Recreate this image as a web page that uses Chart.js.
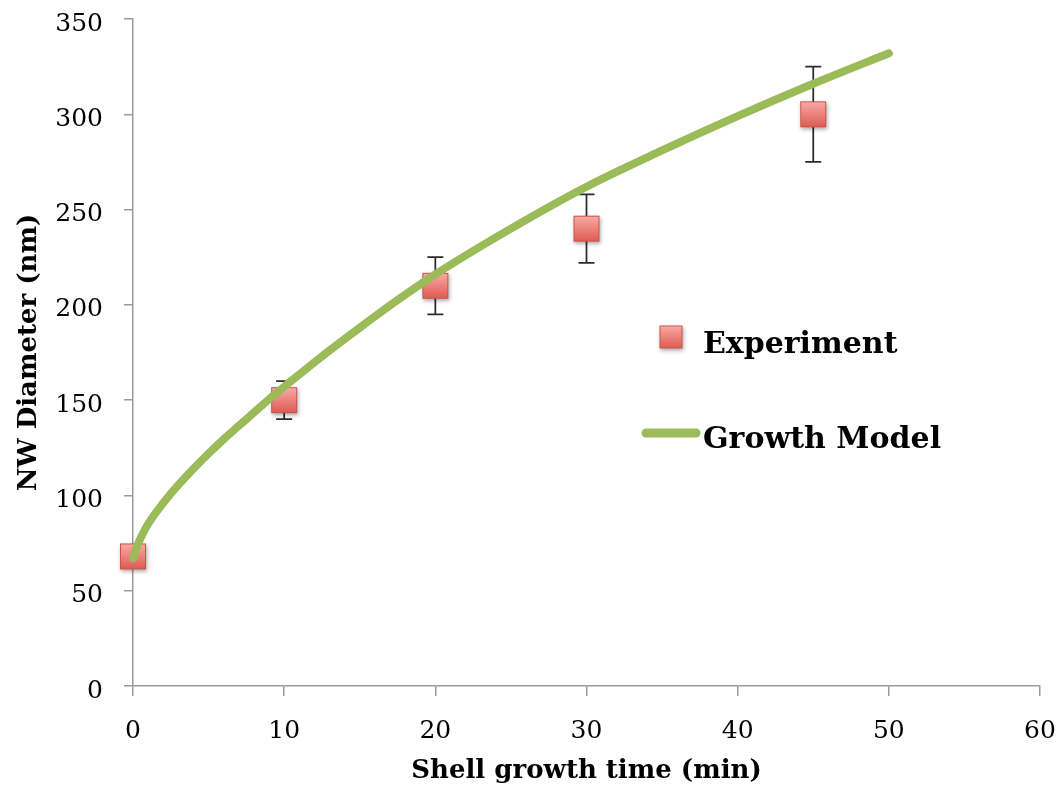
<!DOCTYPE html>
<html>
<head>
<meta charset="utf-8">
<script src="https://cdn.jsdelivr.net/npm/chart.js@4"></script>
<style>
  html, body { margin: 0; padding: 0; background: #fff; }
  #wrap { width: 1060px; height: 789px; }
</style>
</head>
<body>
<div id="wrap"><canvas id="c" width="1060" height="789"></canvas></div>
<script>
// Measured nanowire diameters after shell growth (mean and +/- error)
const expTime = [0, 10, 20, 30, 45];
const expDiameter = [68, 150, 210, 240, 300];
const expError = [0, 10, 15, 18, 25];

// Growth model curve samples
const modelTime = [0, 0.25, 0.5, 1, 2, 3, 4, 5, 6, 7, 8, 9, 10, 12.5, 15, 17.5, 20, 25, 30, 35, 40, 45, 50];
const modelDiameter = [67, 73, 77.5, 85, 96, 105.5, 114, 122, 129.5, 136.5, 143.5, 150.5, 157, 173, 188, 202.5, 216, 240, 262, 281, 299, 316, 332];

// Axis ticks
const timeTicks = [0, 10, 20, 30, 40, 50, 60];
const diameterTicks = [0, 50, 100, 150, 200, 250, 300, 350];

const seriesNames = ['Experiment', 'Growth Model'];
const axisTitles = ['Shell growth time (min)', 'NW Diameter (nm)'];

const FONT = "'DejaVu Serif', 'Liberation Serif', serif";
const GREEN = '#9bbb59';
const AXIS_GREY = '#9a9a9a';

// Square marker with a soft gradient and drop shadow
function makeMarker(size, pad) {
  const c = document.createElement('canvas');
  const s = size + pad * 2;
  c.width = s; c.height = s;
  const g = c.getContext('2d');
  g.shadowColor = 'rgba(0,0,0,0.35)';
  g.shadowBlur = 4;
  g.shadowOffsetX = 1;
  g.shadowOffsetY = 2;
  const grad = g.createLinearGradient(0, pad, 0, pad + size);
  grad.addColorStop(0, '#f8aca6');
  grad.addColorStop(1, '#de5a52');
  g.fillStyle = grad;
  g.fillRect(pad, pad, size, size);
  g.shadowColor = 'transparent';
  g.strokeStyle = '#c8524c';
  g.lineWidth = 1;
  g.strokeRect(pad + 0.5, pad + 0.5, size - 1, size - 1);
  return c;
}
const pointMarker = makeMarker(26, 6);
const legendMarker = makeMarker(23, 5);

// Vertical error bars with caps, drawn beneath the markers
const errorBars = {
  id: 'errorBars',
  beforeDatasetsDraw(chart) {
    const { ctx, scales: { x, y } } = chart;
    ctx.save();
    ctx.strokeStyle = '#2b2b2b';
    ctx.lineWidth = 1.75;
    expTime.forEach((t, i) => {
      const e = expError[i];
      if (!e) return;
      const px = x.getPixelForValue(t);
      const top = y.getPixelForValue(expDiameter[i] + e);
      const bot = y.getPixelForValue(expDiameter[i] - e);
      ctx.beginPath();
      ctx.moveTo(px, top); ctx.lineTo(px, bot);
      ctx.moveTo(px - 8, top); ctx.lineTo(px + 8, top);
      ctx.moveTo(px - 8, bot); ctx.lineTo(px + 8, bot);
      ctx.stroke();
    });
    ctx.restore();
  }
};

// Legend placed inside the plot, right of the curve
const innerLegend = {
  id: 'innerLegend',
  afterDraw(chart) {
    const { ctx } = chart;
    const byName = name => chart.data.datasets.find(d => d.label === name).label;
    ctx.save();
    ctx.font = 'bold 30px ' + FONT;
    ctx.fillStyle = '#000';
    ctx.textAlign = 'left';
    ctx.textBaseline = 'alphabetic';
    ctx.drawImage(legendMarker, 671 - legendMarker.width / 2, 337 - legendMarker.height / 2);
    ctx.fillText(byName(seriesNames[0]), 703, 353);
    ctx.strokeStyle = GREEN;
    ctx.lineWidth = 9;
    ctx.lineCap = 'round';
    ctx.beginPath();
    ctx.moveTo(646, 433); ctx.lineTo(696, 433);
    ctx.stroke();
    ctx.fillText(byName(seriesNames[1]), 703, 448);
    ctx.restore();
  }
};

new Chart(document.getElementById('c'), {
  data: {
    datasets: [
      {
        type: 'line',
        label: seriesNames[1],
        data: modelTime.map((t, i) => ({ x: t, y: modelDiameter[i] })),
        borderColor: GREEN,
        borderWidth: 8,
        borderCapStyle: 'round',
        borderJoinStyle: 'round',
        cubicInterpolationMode: 'monotone',
        pointRadius: 0,
        fill: false,
        clip: false,
        order: 0
      },
      {
        type: 'scatter',
        label: seriesNames[0],
        data: expTime.map((t, i) => ({ x: t, y: expDiameter[i] })),
        pointStyle: pointMarker,
        pointRadius: 13,
        clip: false,
        order: 1
      }
    ]
  },
  options: {
    responsive: false,
    animation: false,
    devicePixelRatio: 1,
    layout: { autoPadding: false, padding: { top: 19, right: 20, left: 0, bottom: 0 } },
    plugins: {
      legend: { display: false },
      tooltip: { enabled: false }
    },
    scales: {
      x: {
        type: 'linear',
        min: timeTicks[0],
        max: timeTicks[timeTicks.length - 1],
        afterBuildTicks: s => { s.ticks = timeTicks.map(v => ({ value: v })); },
        afterFit: s => { s.height = 103; s.paddingLeft = 0; s.paddingRight = 0; },
        grid: { drawOnChartArea: false, drawTicks: true, tickLength: 10, color: AXIS_GREY, lineWidth: 1.5 },
        border: { color: AXIS_GREY, width: 1.5 },
        ticks: { color: '#000', padding: 20, font: { family: FONT, size: 25 }, maxRotation: 0 },
        title: {
          display: true,
          text: axisTitles[0],
          color: '#000',
          font: { family: FONT, size: 26, weight: 'bold' },
          padding: { top: 0, bottom: 2 }
        }
      },
      y: {
        type: 'linear',
        min: diameterTicks[0],
        max: diameterTicks[diameterTicks.length - 1],
        afterBuildTicks: s => { s.ticks = diameterTicks.map(v => ({ value: v })); },
        afterFit: s => { s.width = 133; s.paddingTop = 0; s.paddingBottom = 0; },
        grid: { drawOnChartArea: false, drawTicks: true, tickLength: 9, color: AXIS_GREY, lineWidth: 1.5 },
        border: { color: AXIS_GREY, width: 1.5 },
        ticks: { color: '#000', padding: 21, labelOffset: 5, font: { family: FONT, size: 25 } },
        title: {
          display: true,
          text: axisTitles[1],
          color: '#000',
          font: { family: FONT, size: 26, weight: 'bold' },
          padding: { top: 14, bottom: 0 }
        }
      }
    }
  },
  plugins: [errorBars, innerLegend]
});
</script>
</body>
</html>
